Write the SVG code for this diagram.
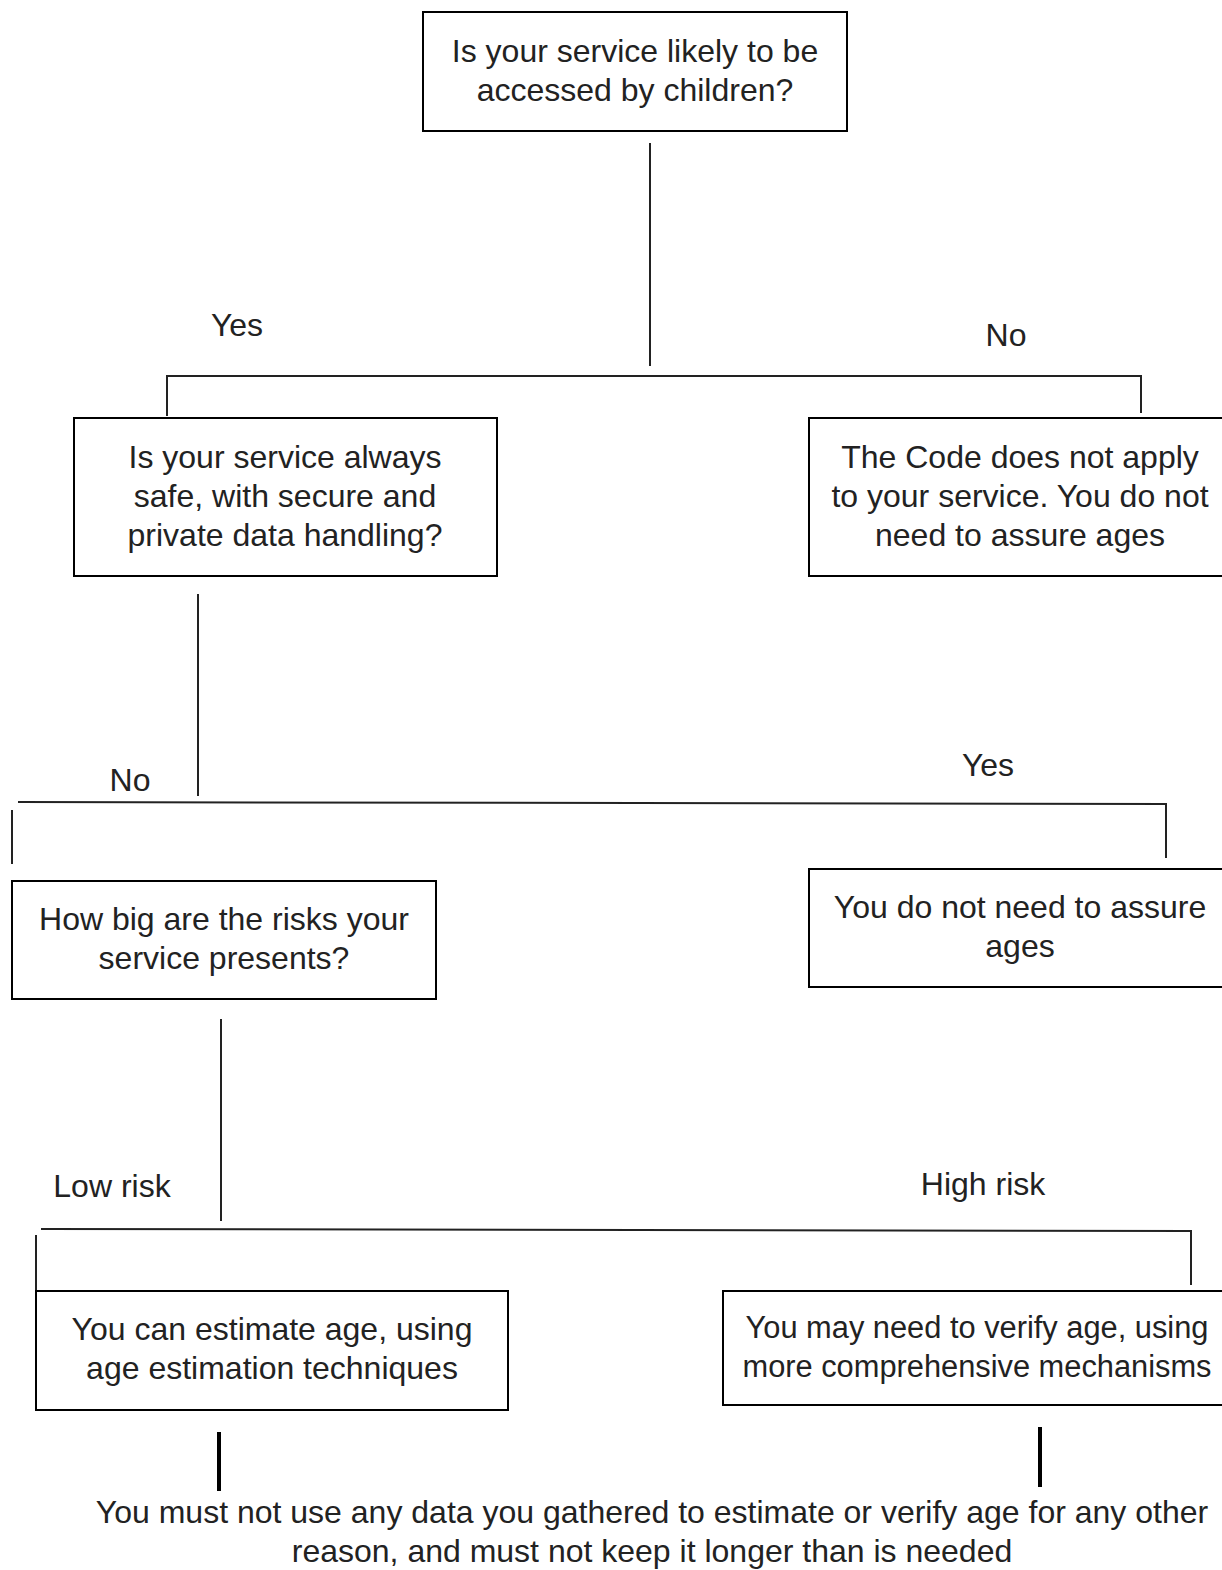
<svg xmlns="http://www.w3.org/2000/svg" width="1222" height="1570" viewBox="0 0 1222 1570">
<style>
.box{fill:#fff;stroke:#000;stroke-width:2}
.t{font-family:"Liberation Sans",Arial,sans-serif;font-size:32px;fill:#222;text-anchor:middle;dominant-baseline:central}
.sm{font-size:30.8px}
.ln{stroke:#222;stroke-width:2;fill:none}
.thick{stroke:#000;stroke-width:4;fill:none}
</style>
<rect width="1222" height="1570" fill="#fff"/>
<g id="connectors">
<path class="ln" d="M650 143V366"/>
<path class="ln" d="M167 416V376H1141V413"/>
<path class="ln" d="M198 594V796"/>
<path class="ln" d="M18 802L1166 804V858"/>
<path class="ln" d="M12 810V864"/>
<path class="ln" d="M221 1019V1221"/>
<path class="ln" d="M41 1229L1191 1231V1285"/>
<path class="ln" d="M36 1235V1290"/>
<path class="thick" d="M219 1432V1491"/>
<path class="thick" d="M1040 1427V1487"/>
</g>
<g id="labels">
<text class="t" x="237" y="325">Yes</text>
<text class="t" x="1006" y="335">No</text>
<text class="t" x="130" y="780">No</text>
<text class="t" x="988" y="765">Yes</text>
<text class="t" x="112" y="1186">Low risk</text>
<text class="t" x="983" y="1184">High risk</text>
</g>
<g id="q1">
<rect class="box" x="423" y="12" width="424" height="119"/>
<text class="t" x="635" y="51">Is your service likely to be</text>
<text class="t" x="635" y="90">accessed by children?</text>
</g>
<g id="q2">
<rect class="box" x="74" y="418" width="423" height="158"/>
<text class="t" x="285" y="457">Is your service always</text>
<text class="t" x="285" y="496">safe, with secure and</text>
<text class="t" x="285" y="535">private data handling?</text>
</g>
<g id="notapply">
<rect class="box" x="809" y="418" width="420" height="158"/>
<text class="t" x="1020" y="457">The Code does not apply</text>
<text class="t" x="1020" y="496">to your service. You do not</text>
<text class="t" x="1020" y="535">need to assure ages</text>
</g>
<g id="q3">
<rect class="box" x="12" y="881" width="424" height="118"/>
<text class="t" x="224" y="919">How big are the risks your</text>
<text class="t" x="224" y="958">service presents?</text>
</g>
<g id="noneed">
<rect class="box" x="809" y="869" width="420" height="118"/>
<text class="t" x="1020" y="907">You do not need to assure</text>
<text class="t" x="1020" y="946">ages</text>
</g>
<g id="estimate">
<rect class="box" x="36" y="1291" width="472" height="119"/>
<text class="t" x="272" y="1329">You can estimate age, using</text>
<text class="t" x="272" y="1368">age estimation techniques</text>
</g>
<g id="verify">
<rect class="box" x="723" y="1291" width="506" height="114"/>
<text class="t sm" x="977" y="1327">You may need to verify age, using</text>
<text class="t sm" x="977" y="1366">more comprehensive mechanisms</text>
</g>
<g id="final">
<text class="t" x="652" y="1512">You must not use any data you gathered to estimate or verify age for any other</text>
<text class="t" x="652" y="1551">reason, and must not keep it longer than is needed</text>
</g>
</svg>
